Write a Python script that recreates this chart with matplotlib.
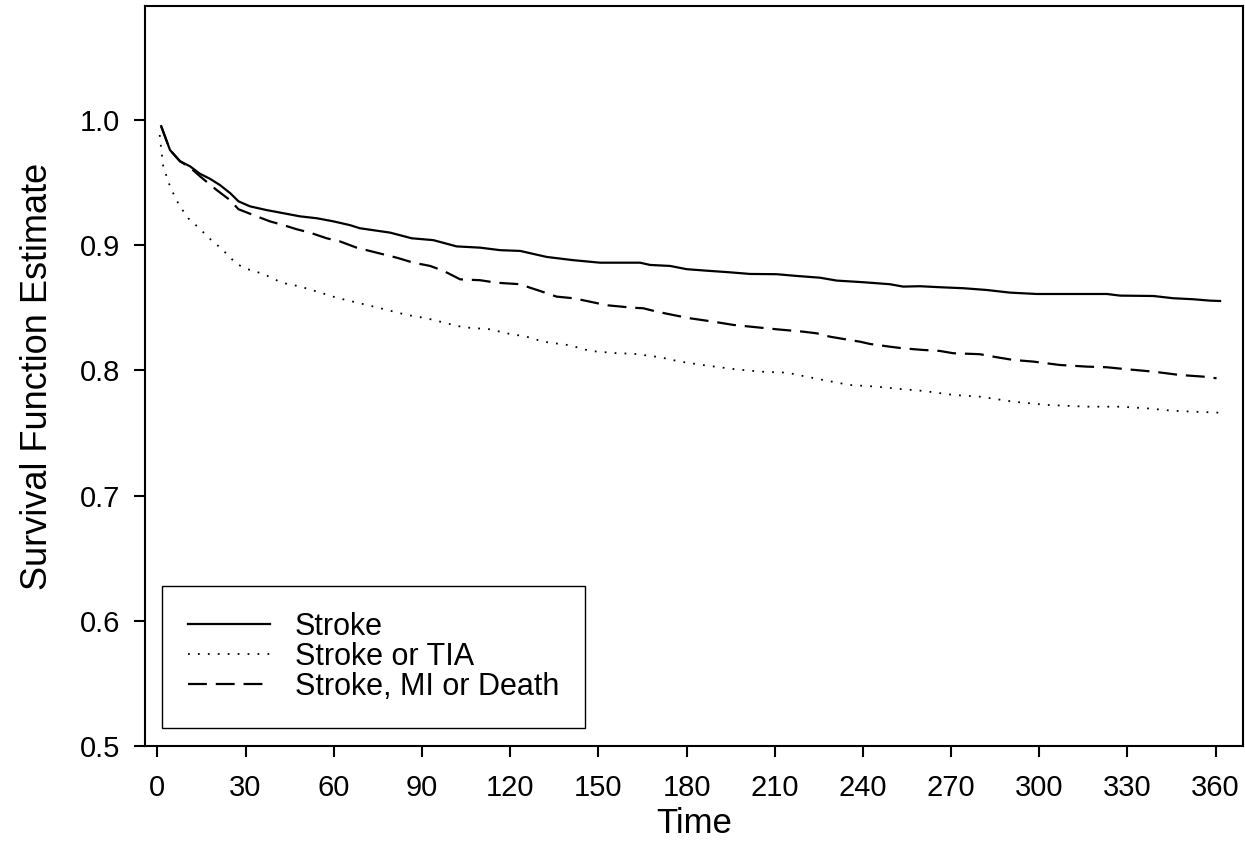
import matplotlib
matplotlib.use("Agg")
from matplotlib import pyplot as plt

plt.rcParams["font.family"] = ["Liberation Sans", "DejaVu Sans"]

# Kaplan-Meier estimates, days since index event
stroke_t = [1.3, 4.3, 7.7, 11.1, 14.5, 17.9, 21.3, 24.8, 27.6, 31.5, 37.2, 42.9,
            48.5, 54.2, 59.9, 65.5, 68.9, 79.2, 86.5, 93.9, 101.8, 109.8, 116.6,
            123.4, 132.4, 141.5, 150.6, 164.2, 167.6, 174.4, 180.1, 186.9, 194.8,
            201.6, 210.7, 217.5, 225.4, 231.1, 240.1, 249.2, 253.7, 259.4, 266.2,
            274.2, 282.1, 290.0, 299.1, 310.5, 323.0, 327.5, 338.8, 345.6, 352.4,
            358.0, 361.5]
stroke_s = [0.995, 0.976, 0.967, 0.963, 0.957, 0.953, 0.948, 0.9415, 0.935, 0.931,
            0.928, 0.9255, 0.923, 0.9215, 0.919, 0.916, 0.9135, 0.910, 0.9055,
            0.904, 0.899, 0.898, 0.896, 0.8954, 0.8906, 0.888, 0.886, 0.886,
            0.8842, 0.8834, 0.8808, 0.8796, 0.8783, 0.877, 0.8768, 0.8754, 0.874,
            0.8717, 0.8704, 0.8688, 0.8669, 0.8672, 0.8664, 0.8656, 0.8642, 0.8621,
            0.861, 0.861, 0.861, 0.8597, 0.8594, 0.8576, 0.8568, 0.8557, 0.8554]

tia_t = [0.8, 1.3, 2.0, 3.0, 4.0, 5.1, 6.6, 8.3, 10.5, 13.4, 16.2, 18.8, 21.7,
         24.4, 27.0, 30.4, 36.1, 42.3, 48.5, 54.2, 61.0, 73.5, 84.8, 91.6, 98.4,
         104.1, 113.2, 118.8, 125.6, 131.3, 140.4, 147.2, 156.3, 161.9, 171.0,
         177.8, 186.9, 195.9, 205.0, 214.1, 219.7, 226.5, 235.6, 244.7, 253.7,
         260.5, 270.7, 279.8, 291.2, 302.5, 316.1, 327.5, 336.5, 345.6, 352.4,
         361.5]
tia_s = [0.988, 0.977, 0.963, 0.956, 0.949, 0.943, 0.9355, 0.929, 0.9215, 0.9153,
         0.909, 0.903, 0.8975, 0.891, 0.885, 0.881, 0.877, 0.870, 0.867, 0.863,
         0.858, 0.851, 0.8443, 0.8416, 0.8376, 0.8344, 0.8328, 0.8296, 0.8269,
         0.8229, 0.820, 0.8155, 0.8137, 0.8133, 0.8105, 0.807, 0.8038, 0.8011,
         0.799, 0.7982, 0.7955, 0.7923, 0.7883, 0.787, 0.7849, 0.7836, 0.7804,
         0.779, 0.775, 0.7724, 0.771, 0.771, 0.7697, 0.7677, 0.767, 0.7662]

death_t = [1.3, 4.3, 7.7, 11.1, 14.5, 20.2, 24.7, 27.6, 32.7, 38.3, 42.9, 47.4,
           51.9, 57.6, 62.1, 67.8, 74.6, 81.4, 87.1, 92.8, 97.4, 103.0, 109.8,
           115.4, 123.4, 126.8, 130.2, 135.8, 141.5, 146.1, 152.9, 161.9, 165.3,
           169.9, 175.5, 181.2, 189.1, 195.9, 203.9, 210.7, 219.7, 224.3, 228.8,
           233.3, 239.0, 242.4, 249.2, 253.7, 260.5, 266.2, 270.7, 279.8, 285.5,
           291.2, 298.0, 307.0, 316.1, 322.9, 329.7, 338.8, 347.8, 355.8, 360.3]
death_s = [0.995, 0.976, 0.967, 0.962, 0.955, 0.944, 0.936, 0.9287, 0.924, 0.919,
           0.916, 0.9127, 0.910, 0.9055, 0.903, 0.898, 0.894, 0.890, 0.886, 0.8834,
           0.8794, 0.8727, 0.872, 0.870, 0.8688, 0.866, 0.8634, 0.8589, 0.8576,
           0.8554, 0.852, 0.850, 0.8496, 0.8469, 0.8442, 0.8416, 0.8389, 0.8363,
           0.8344, 0.8328, 0.8309, 0.8296, 0.8269, 0.8251, 0.8229, 0.8211, 0.8189,
           0.8176, 0.8163, 0.8155, 0.8137, 0.8129, 0.8105, 0.8083, 0.807, 0.8043,
           0.803, 0.8025, 0.8009, 0.799, 0.7963, 0.795, 0.7937]

labels = ["Stroke", "Stroke or TIA", "Stroke, MI or Death"]
xticks = list(range(0, 361, 30))
yticks = [0.5, 0.6, 0.7, 0.8, 0.9, 1.0]

fig = plt.figure(figsize=(12.45, 8.63), dpi=100)
ax = fig.add_axes([145 / 1245, 117 / 863, 1098 / 1245, 740 / 863])

ax.plot(stroke_t, stroke_s, color="black", lw=1.6, linestyle="-", label=labels[0])
ax.plot(tia_t, tia_s, color="black", lw=1.3, linestyle=(0, (1, 4.5)), label=labels[1])
ax.plot(death_t, death_s, color="black", lw=1.6, linestyle=(0, (8.5, 4)), label=labels[2])

ax.set_xlim(-4.2, 369.3)
ax.set_ylim(0.5, 1.091)
ax.set_xticks(xticks)
ax.set_yticks(yticks)
ax.set_yticklabels(["%.1f" % v for v in yticks])

for sp in ax.spines.values():
    sp.set_linewidth(1.5)
ax.tick_params(axis="both", direction="out", length=8, width=1.5, labelsize=21)
ax.tick_params(axis="x", pad=12)
ax.tick_params(axis="y", pad=10)

ax.set_xlabel("Time", fontsize=25, labelpad=4)
ax.set_ylabel("Survival Function Estimate", fontsize=26, labelpad=18)

leg = ax.legend(loc="lower left", bbox_to_anchor=(162 / 1245, 135 / 863),
                bbox_transform=fig.transFigure, borderaxespad=0, fontsize=22,
                handlelength=2.7, handletextpad=0.8, borderpad=0.85,
                labelspacing=0.0, fancybox=False, framealpha=1)
leg.get_frame().set_edgecolor("black")
leg.get_frame().set_linewidth(1.0)

fig.savefig("out.png", dpi=100)
